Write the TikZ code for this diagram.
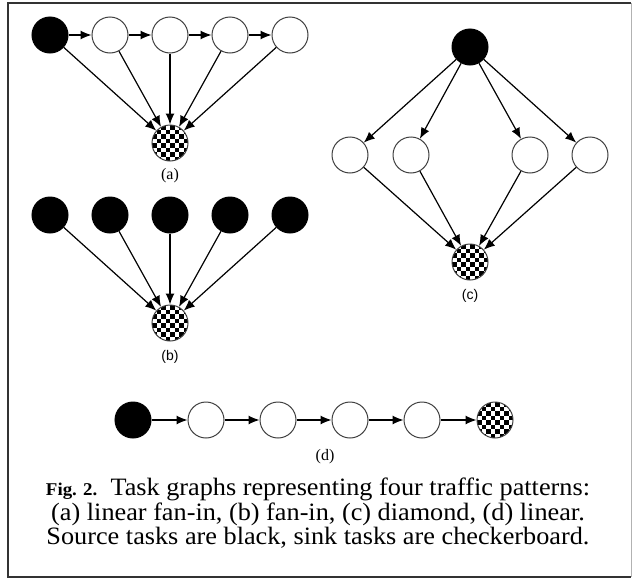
\documentclass[tikz,border=0pt]{standalone}
\usepackage{fontspec}
\setmainfont{Liberation Serif}
\setsansfont{Liberation Sans}
\usetikzlibrary{arrows.meta}
\begin{document}
\begin{tikzpicture}[x=1pt,y=-1pt,
  task/.style={circle,draw=black!75,line width=1pt,minimum size=36pt,inner sep=0pt},
  src/.style={task,fill=black,draw=black},
  mid/.style={task,fill=white},
  sink/.style={task,path picture={
    \foreach \i in {-5,...,4}{\foreach \j in {-5,...,4}{
      \pgfmathtruncatemacro\chk{mod(\i+\j+20,2)}
      \ifnum\chk=0
        \fill[black,shift={(path picture bounding box.center)}] (\i*4.5,\j*4.5) rectangle ++(4.5,4.5);
      \fi}}}},
  edge/.style={line width=1.2pt,-{Latex[length=11pt,width=9pt]}},
  sub/.style={font=\fontsize{16}{16}\selectfont},
  subsf/.style={font=\sffamily\fontsize{14}{14}\selectfont}
]
\useasboundingbox (0,0) rectangle (632,581);
\fill[white] (0,0) rectangle (632,581);
\draw[line width=2pt,black!80,line cap=rect] (630,577) -- (8,577) -- (8,3) -- (630,3);
\draw[line width=1pt,black!30] (631,3) -- (631,577);

% (a) linear fan-in
\node[src] (a0) at (50,35) {};
\node[mid] (a1) at (110,35) {};
\node[mid] (a2) at (170,35) {};
\node[mid] (a3) at (230,35) {};
\node[mid] (a4) at (290,35) {};
\node[sink] (as) at (170,143) {};
\node[sub] (la) at (170,176) {(a)};
\draw[edge] (a0) -- (a1);
\draw[edge] (a1) -- (a2);
\draw[edge] (a2) -- (a3);
\draw[edge] (a3) -- (a4);
\foreach \n in {a0,a1,a2,a3,a4} \draw[edge] (\n) -- (as);

% (b) fan-in
\node[src] (b1) at (50,215) {};
\node[src] (b2) at (110,215) {};
\node[src] (b3) at (170,215) {};
\node[src] (b4) at (230,215) {};
\node[src] (b5) at (290,215) {};
\node[sink] (bs) at (170,323) {};
\node[subsf] (lb) at (170,357) {(b)};
\foreach \n in {b1,b2,b3,b4,b5} \draw[edge] (\n) -- (bs);

% (c) diamond
\node[src] (c0) at (470,47) {};
\node[mid] (c1) at (350,155) {};
\node[mid] (c2) at (411,155) {};
\node[mid] (c3) at (530,155) {};
\node[mid] (c4) at (590,155) {};
\node[sink] (cs) at (470,262) {};
\node[subsf] (lc) at (470,296) {(c)};
\foreach \n in {c1,c2,c3,c4} {\draw[edge] (c0) -- (\n); \draw[edge] (\n) -- (cs);}

% (d) linear
\node[src] (d0) at (133,420) {};
\node[mid] (d1) at (206,420) {};
\node[mid] (d2) at (278,420) {};
\node[mid] (d3) at (350,420) {};
\node[mid] (d4) at (422,420) {};
\node[sink] (ds) at (495,420) {};
\node[sub] (ld) at (325,457) {(d)};
\draw[edge] (d0) -- (d1);
\draw[edge] (d1) -- (d2);
\draw[edge] (d2) -- (d3);
\draw[edge] (d3) -- (d4);
\draw[edge] (d4) -- (ds);

% caption
\node[inner sep=0pt] (cap) at (318,515)
 {\scalebox{1.05}[1]{\fontsize{25}{23}\selectfont
  \begin{tabular}{@{}c@{}}
  {\fontsize{18}{18}\selectfont\bfseries Fig. 2.}\ \ Task graphs representing four traffic patterns:\\
  (a) linear fan-in, (b) fan-in, (c) diamond, (d) linear.\\
  Source tasks are black, sink tasks are checkerboard.
  \end{tabular}}};
\end{tikzpicture}
\end{document}
